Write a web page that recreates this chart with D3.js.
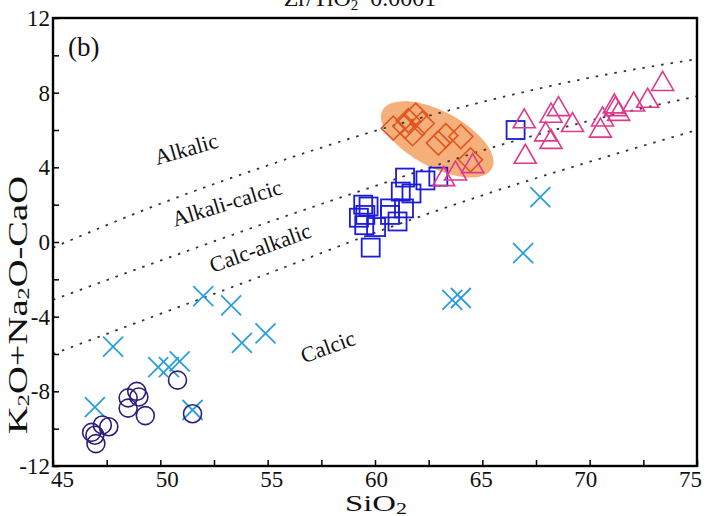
<!DOCTYPE html>
<html>
<head>
<meta charset="utf-8">
<script src="https://cdn.jsdelivr.net/npm/d3@7"></script>
<style>
body { margin: 0; background: #fff; }
svg text { font-family: 'Liberation Serif', 'Times New Roman', Times, serif; fill: #111; }
</style>
</head>
<body>
<div id="chart"></div>
<script>
// axis ticks
var xTicks = [45, 50, 55, 60, 65, 70, 75];
var yTicks = [-12, -8, -4, 0, 4, 8, 12];

// samples: [SiO2, K2O+Na2O-CaO]
var circles = [[46.8,-10.2],[46.95,-10.35],[47.0,-10.8],[47.3,-9.8],[47.6,-9.9],
  [48.5,-8.35],[48.9,-8.0],[49.0,-8.3],[48.5,-8.9],[49.3,-9.3],[50.8,-7.4],[51.5,-9.2]];
var crosses = [[46.95,-8.85],[47.8,-5.6],[49.9,-6.7],[50.4,-6.7],[50.9,-6.4],[51.5,-9.0],
  [52.0,-2.9],[53.3,-3.4],[53.8,-5.4],[54.9,-4.9],[63.6,-3.1],[64.0,-3.0],[66.9,-0.6],[67.7,2.4]];
var squares = [[61.4,3.45],[62.35,3.3],[62.95,3.5],[61.2,2.7],[61.7,2.6],[61.35,1.8],[60.7,1.8],
  [60.7,1.45],[61.05,1.1],[59.45,2.0],[59.7,1.9],[59.25,1.3],[59.55,1.45],[59.5,0.9],[60.05,0.8],
  [59.8,-0.3],[66.55,6.0]];
var diamonds = [[61.9,6.8],[62.2,6.35],[60.85,6.1],[61.4,6.2],[61.75,5.8],[61.55,6.5],
  [62.95,5.3],[63.3,5.7],[64.0,5.65],[64.45,4.4]];
var triangles = [[63.2,3.5],[63.75,3.8],[64.55,4.2],[66.95,6.6],[67.0,4.7],[67.95,5.9],[68.2,5.5],
  [68.2,6.9],[68.55,7.25],[69.2,6.4],[70.5,6.1],[70.6,6.7],[71.15,7.4],[71.2,7.25],[71.35,7.0],
  [72.05,7.5],[72.7,7.7],[73.4,8.6]];

// boundary curves read at SiO2 = 45..75
var boundSi = [45, 50, 55, 60, 65, 70, 75];
var alkalicBound = [-0.3, 2.05, 4.1, 5.95, 7.5, 8.8, 9.8];
var alkCalcBound = [-3.1, -1.0, 1.05, 3.0, 4.9, 6.5, 7.8];
var calcAlkBound = [-6.0, -3.85, -1.7, 0.5, 2.5, 4.3, 6.0];

// shaded field centre
var fieldCentre = [62.9, 5.5];

(function() {
    var W = 706, H = 516;
    var mL = 53, mR = 697, mT = 18, mB = 466;

    var svg = d3.select("#chart").append("svg")
        .attr("width", W)
        .attr("height", H);

    var x = d3.scaleLinear().domain([45, 75]).range([mL, mR]);
    var y = d3.scaleLinear().domain([-12, 12]).range([mB, mT]);
    // tick labels in the original sit a little off their ticks
    var xLab = d3.scaleLinear().domain([45, 75]).range([62, 690]);

    // shaded field
    svg.append("ellipse")
        .attr("transform", "translate(" + x(fieldCentre[0]) + "," + y(fieldCentre[1]) + ") rotate(28)")
        .attr("rx", 62)
        .attr("ry", 28)
        .style("fill", "#f3a468")
        .style("opacity", 0.88);

    // dotted boundaries
    var line = d3.line()
        .x(function(d, i) { return x(boundSi[i]); })
        .y(function(d) { return y(d); })
        .curve(d3.curveMonotoneX);

    [alkalicBound, alkCalcBound, calcAlkBound].forEach(function(b) {
        svg.append("path")
            .attr("d", line(b))
            .style("fill", "none")
            .style("stroke", "#333")
            .style("stroke-width", 1.8)
            .style("stroke-dasharray", "2.5,7");
    });

    // field names
    var names = [
        {t: "Alkalic", si: 51.2, v: 5.0, a: -16},
        {t: "Alkali-calcic", si: 53.1, v: 2.1, a: -17},
        {t: "Calc-alkalic", si: 54.65, v: -0.3, a: -20},
        {t: "Calcic", si: 57.8, v: -5.6, a: -20}
    ];
    svg.selectAll(".name").data(names).enter().append("text")
        .attr("class", "name")
        .attr("text-anchor", "middle")
        .attr("transform", function(d) { return "translate(" + x(d.si) + "," + y(d.v) + ") rotate(" + d.a + ")"; })
        .attr("dy", "0.35em")
        .attr("font-size", 22)
        .text(function(d) { return d.t; });

    // markers
    function pos(d) { return "translate(" + x(d[0]) + "," + y(d[1]) + ")"; }

    svg.selectAll(".cross").data(crosses).enter().append("path")
        .attr("transform", pos)
        .attr("d", "M-10,-10L10,10M-10,10L10,-10")
        .style("fill", "none").style("stroke", "#2a9fdc").style("stroke-width", 1.8);

    svg.selectAll(".circ").data(circles).enter().append("circle")
        .attr("transform", pos)
        .attr("r", 9)
        .style("fill", "none").style("stroke", "#2d1e7a").style("stroke-width", 1.6);

    svg.selectAll(".sq").data(squares).enter().append("rect")
        .attr("transform", pos)
        .attr("x", -9).attr("y", -9).attr("width", 18).attr("height", 18)
        .style("fill", "none").style("stroke", "#1c1cd8").style("stroke-width", 1.8);

    svg.selectAll(".dia").data(diamonds).enter().append("path")
        .attr("transform", pos)
        .attr("d", "M0,-12L12,0L0,12L-12,0Z")
        .style("fill", "none").style("stroke", "#e0561e").style("stroke-width", 1.6);

    svg.selectAll(".tri").data(triangles).enter().append("path")
        .attr("transform", pos)
        .attr("d", "M0,-10L11,9L-11,9Z")
        .style("fill", "none").style("stroke", "#de3a8c").style("stroke-width", 1.6);

    // axes, ticks inside
    var xAxis = d3.axisBottom(x)
        .tickValues(d3.range(45, 75.1, 2.5))
        .tickSize(-6).tickPadding(5)
        .tickFormat(function(d) { return xTicks.indexOf(d) >= 0 ? String(d) : ""; });
    var yAxis = d3.axisLeft(y)
        .tickValues(d3.range(-12, 12.1, 2))
        .tickSize(-6).tickPadding(3)
        .tickFormat(function(d) { return yTicks.indexOf(d) >= 0 ? String(d) : ""; });

    var gx = svg.append("g").attr("transform", "translate(0," + mB + ")").call(xAxis);
    var gy = svg.append("g").attr("transform", "translate(" + mL + ",0)").call(yAxis);
    [gx, gy].forEach(function(g) {
        g.attr("font-family", null);
        g.select(".domain").remove();
        g.selectAll("line").style("stroke", "#000").style("stroke-width", 1.5);
        g.selectAll("text").attr("font-size", 23).style("fill", "#111");
    });
    gx.selectAll("text").attr("x", function(d) { return xLab(d) - x(d); });

    // frame
    svg.append("rect")
        .attr("x", mL).attr("y", mT)
        .attr("width", mR - mL).attr("height", mB - mT)
        .style("fill", "none").style("stroke", "#000").style("stroke-width", 2.4);

    // panel letter and title
    svg.append("text").attr("x", 68).attr("y", 56).attr("font-size", 27).text("(b)");

    var title = svg.append("text").attr("x", 360).attr("y", 6).attr("text-anchor", "middle").attr("font-size", 24);
    title.append("tspan").text("Zr/TiO");
    title.append("tspan").attr("font-size", 15).attr("dy", 4).text("2");
    title.append("tspan").attr("dy", -4).text("*0.0001");

    // axis titles
    var xl = svg.append("text").attr("x", 376).attr("y", 511).attr("text-anchor", "middle")
        .attr("font-size", 24).attr("textLength", 62).attr("lengthAdjust", "spacingAndGlyphs");
    xl.append("tspan").text("SiO");
    xl.append("tspan").attr("font-size", 16).attr("dy", 3).text("2");

    var yl = svg.append("text")
        .attr("transform", "translate(27,305) rotate(-90)")
        .attr("text-anchor", "middle").attr("font-size", 27)
        .attr("textLength", 258).attr("lengthAdjust", "spacingAndGlyphs");
    yl.append("tspan").text("K");
    yl.append("tspan").attr("font-size", 17).attr("dy", 2).text("2");
    yl.append("tspan").attr("dy", -2).text("O+Na");
    yl.append("tspan").attr("font-size", 17).attr("dy", 2).text("2");
    yl.append("tspan").attr("dy", -2).text("O-CaO");
})();
</script>
</body>
</html>
